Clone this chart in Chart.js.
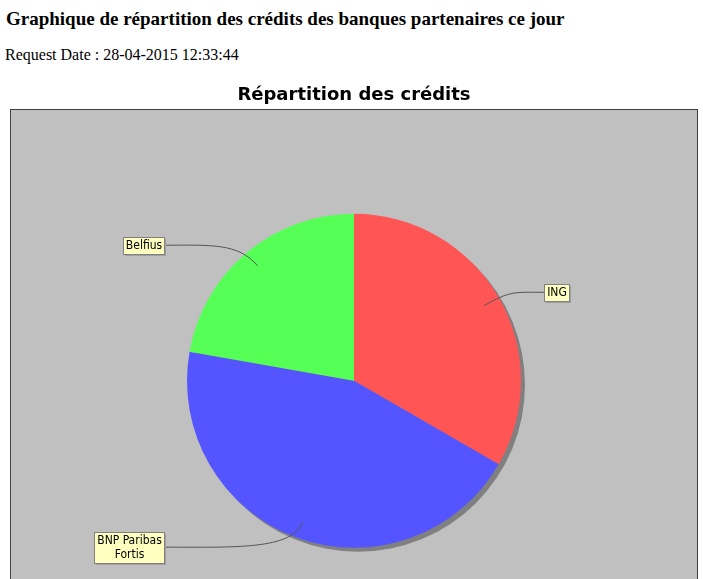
<!DOCTYPE html>
<html>
<head>
<meta charset="utf-8">
<script src="https://cdn.jsdelivr.net/npm/chart.js@4.4.0/dist/chart.umd.min.js"></script>
<style>
  html, body { margin: 0; padding: 0; width: 703px; height: 579px; overflow: hidden; background: #fff; }
  #h { position: absolute; left: 6px; top: 8px; font: bold 19px "Liberation Serif", "Times New Roman", serif; color: #000; white-space: nowrap; }
  #d { position: absolute; left: 5px; top: 46px; font: 16px "Liberation Serif", "Times New Roman", serif; color: #000; white-space: nowrap; }
  #wrap { position: absolute; left: 0; top: 80px; width: 703px; height: 499px; }
</style>
</head>
<body>
<div id="h">Graphique de répartition des crédits des banques partenaires ce jour</div>
<div id="d">Request Date : 28-04-2015 12:33:44</div>
<div id="wrap"><canvas id="c" width="703" height="499"></canvas></div>
<script>
const chartTitle = 'Répartition des crédits';
const categories = ['ING', 'BNP Paribas Fortis', 'Belfius'];
const credits = [3, 4, 2];
const sliceColors = ['#FF5555', '#5555FF', '#55FF55'];

const plotBackground = {
  id: 'plotBackground',
  beforeDraw(chart) {
    const ctx = chart.ctx;
    ctx.save();
    ctx.fillStyle = '#C0C0C0';
    ctx.fillRect(10, 29, 687, 480);
    ctx.strokeStyle = '#404040';
    ctx.lineWidth = 1;
    ctx.strokeRect(10.5, 29.5, 687, 480);
    ctx.restore();
  }
};

const pieShadow = {
  id: 'pieShadow',
  beforeDatasetsDraw(chart) {
    const arc = chart.getDatasetMeta(0).data[0];
    if (!arc) return;
    const ctx = chart.ctx;
    ctx.save();
    ctx.fillStyle = '#808080';
    ctx.beginPath();
    ctx.arc(arc.x + 4, arc.y + 4, arc.outerRadius, 0, Math.PI * 2);
    ctx.fill();
    ctx.restore();
  }
};

function wrapText(ctx, text, maxW) {
  const words = text.split(' ');
  const lines = [];
  let cur = '';
  for (const w of words) {
    const t = cur ? cur + ' ' + w : w;
    if (ctx.measureText(t).width > maxW && cur) { lines.push(cur); cur = w; }
    else cur = t;
  }
  if (cur) lines.push(cur);
  return lines;
}

const pieLabels = {
  id: 'pieLabels',
  afterDatasetsDraw(chart) {
    const ctx = chart.ctx;
    const meta = chart.getDatasetMeta(0);
    ctx.save();
    ctx.font = '12px "DejaVu Sans Condensed", "DejaVu Sans", sans-serif';
    meta.data.forEach((arc, i) => {
      const cx = arc.x, cy = arc.y, r = arc.outerRadius;
      const mid = (arc.startAngle + arc.endAngle) / 2;
      const cs = Math.cos(mid), sn = Math.sin(mid);
      const ex = cx + 0.9 * r * cs, ey = cy + 0.9 * r * sn;
      const right = cs >= 0;
      const ax = cx + (right ? 1 : -1) * 1.14 * r;
      const ay = cy + 1.06 * r * sn;
      ctx.strokeStyle = '#555555';
      ctx.lineWidth = 1;
      ctx.beginPath();
      ctx.moveTo(ax, ay);
      const dx = Math.abs(ax - ex);
      ctx.bezierCurveTo(ax + (right ? -1 : 1) * dx * 0.5, ay,
                        ex + cs * 30, ey + sn * 30,
                        ex, ey);
      ctx.stroke();
      const lines = wrapText(ctx, categories[i], 72);
      const tw = Math.max(...lines.map(l => ctx.measureText(l).width));
      const lh = 14.5;
      const bw = Math.round(tw + 5);
      const bh = Math.round(lines.length * lh + 2);
      const bx = Math.round(right ? ax : ax - bw);
      const by = Math.round(ay - bh / 2);
      ctx.fillStyle = '#A0A0A0';
      ctx.fillRect(bx + 2, by + 2, bw, bh);
      ctx.fillStyle = '#FFFFC0';
      ctx.fillRect(bx, by, bw, bh);
      ctx.strokeStyle = '#808080';
      ctx.strokeRect(bx + 0.5, by + 0.5, bw, bh);
      ctx.fillStyle = '#000';
      ctx.textAlign = 'center';
      ctx.textBaseline = 'middle';
      lines.forEach((l, k) => {
        ctx.fillText(l, bx + bw / 2 + 0.5, by + 1.5 + lh / 2 + k * lh);
      });
    });
    ctx.restore();
  }
};

new Chart(document.getElementById('c'), {
  type: 'pie',
  data: {
    labels: categories,
    datasets: [{
      data: credits,
      backgroundColor: sliceColors,
      borderWidth: 0
    }]
  },
  options: {
    responsive: false,
    animation: false,
    radius: 167,
    layout: { padding: { left: 187, right: 182, top: 0, bottom: 30 } },
    plugins: {
      legend: { display: false },
      tooltip: { enabled: false },
      title: {
        display: true,
        text: chartTitle,
        color: '#000',
        font: { family: '"DejaVu Sans", sans-serif', size: 18, weight: 'bold' },
        padding: { top: 5, bottom: 106 }
      }
    }
  },
  plugins: [plotBackground, pieShadow, pieLabels]
});
</script>
</body>
</html>
